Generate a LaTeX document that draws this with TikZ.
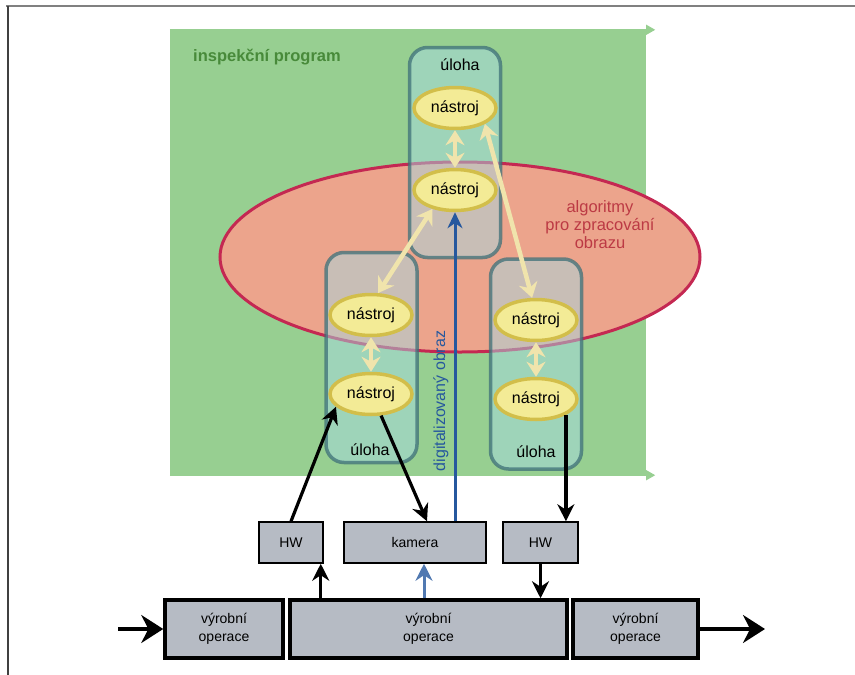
\documentclass[tikz,border=0pt]{standalone}
\usepackage{fontspec}
\setmainfont{Liberation Sans}
\usetikzlibrary{arrows.meta,shapes.geometric,calc}
\definecolor{programGreen}{RGB}{151,207,145}
\definecolor{programText}{RGB}{72,138,58}
\definecolor{algoFill}{RGB}{236,164,140}
\definecolor{algoBorder}{RGB}{196,40,82}
\definecolor{algoText}{RGB}{188,58,68}
\definecolor{taskFill}{RGB}{165,217,225}
\definecolor{taskBorder}{RGB}{62,112,120}
\definecolor{toolFill}{RGB}{243,235,150}
\definecolor{toolBorder}{RGB}{210,190,74}
\definecolor{toolLink}{RGB}{240,228,172}
\definecolor{imageBlue}{RGB}{38,88,158}
\definecolor{hwGrey}{RGB}{182,187,196}
\tikzset{
  every node/.style={font=\fontsize{16}{18}\selectfont},
  flow/.style={line width=3.2pt,-{Stealth[length=17pt,width=17pt]}},
  big flow/.style={line width=3.2pt,-{Stealth[length=22pt,width=28pt]}},
}

\begin{document}
\begin{tikzpicture}[x=1pt,y=-1pt,
  program/.style={fill=programGreen,minimum width=476pt,minimum height=445pt,inner sep=0},
  algo/.style={ellipse,draw=algoBorder,line width=3pt,fill=algoFill,minimum width=480pt,minimum height=190pt},
  task/.style={draw=taskBorder,draw opacity=.75,line width=3.5pt,fill=taskFill,fill opacity=.5,
    rounded corners=18pt,minimum width=91pt,minimum height=210pt},
  tool/.style={ellipse,draw=toolBorder,line width=3.5pt,fill=toolFill,minimum width=82pt,minimum height=41pt,inner sep=0},
  tool link/.style={draw=toolLink,line width=4.5pt,{Stealth[length=15pt,width=19pt]}-{Stealth[length=15pt,width=19pt]}},
  hw/.style={draw,line width=1.5pt,fill=hwGrey,minimum height=41pt,font=\fontsize{14}{15}\selectfont},
  operation/.style={draw,line width=3.5pt,fill=hwGrey,minimum height=58pt,align=center,font=\fontsize{14}{18}\selectfont},
]
\useasboundingbox (0,0) rectangle (855,675);
% frame
\draw[gray,line width=2.5pt] (6,6) -- (855,6);
\draw[black!75,line width=1.5pt] (8,6) -- (8,675);

% inspection program
\node[program] (prog) at (408,252.5) {};
\draw[programGreen,line width=1pt,-{Triangle[length=9pt,width=10pt]},shorten >=-9pt] (prog.north west) -- (prog.north east);
\draw[programGreen,line width=1pt,-{Triangle[length=9pt,width=10pt]},shorten >=-9pt] (prog.south west) -- (prog.south east);
\node[programText,font=\fontsize{16.5}{18}\selectfont\bfseries] (progLabel) at (267,57) {inspekční program};

\node[algo] (algo) at (460,257) {};

% tasks
\node[task] (taskTop) at (455,152.5) {};
\node[task] (taskLeft) at (371.5,357.5) {};
\node[task] (taskRight) at (536,364) {};
\node (taskTopLabel) at (460,65) {úloha};
\node (taskLeftLabel) at (370,450) {úloha};
\node (taskRightLabel) at (536,452) {úloha};

\node[algoText,align=center,font=\fontsize{16.5}{18}\selectfont] (algoLabel) at (600,225) {algoritmy\\pro zpracování\\obrazu};

% tools
\node[tool] (nTopA) at (455,108) {nástroj};
\node[tool] (nTopB) at (455,190) {nástroj};
\node[tool] (nLeftA) at (371,315) {nástroj};
\node[tool] (nLeftB) at (371,394) {nástroj};
\node[tool] (nRightA) at (536,320) {nástroj};
\node[tool] (nRightB) at (536,399) {nástroj};

\draw[tool link] (nTopA) -- (nTopB);
\draw[tool link] (nLeftA) -- (nLeftB);
\draw[tool link] (nRightA) -- (nRightB);
\draw[tool link] (nTopB.-140) -- (nLeftA.72);
\draw[tool link] (nTopA.-28) -- (nRightA.100);

% hardware
\node[hw,minimum width=64pt] (hwL) at (291,542.5) {HW};
\node[hw,minimum width=142pt] (kamera) at (415,542.5) {kamera};
\node[hw,minimum width=75pt] (hwR) at (540.5,542.5) {HW};

\node[operation,minimum width=118pt] (opL) at (224,629) {výrobní\\operace};
\node[operation,minimum width=277pt] (opM) at (428.5,629) {výrobní\\operace};
\node[operation,minimum width=125pt] (opR) at (635.5,629) {výrobní\\operace};

% image path
\draw[imageBlue,line width=3pt,-{Stealth[length=16pt,width=15pt]}] (kamera.north -| nTopB.south) -- (nTopB.south);
\node[imageBlue,rotate=90] (imgLabel) at (441,401) {digitalizovaný obraz};

\draw[flow] (hwL.north) -- (nLeftB.-160);
\draw[flow] (nLeftB.-65) -- ($(kamera.north)+(12,0)$);
\draw[flow] (nRightB.-28) -- (nRightB.-28 |- hwR.north);

\coordinate (upL) at ($(hwL.south east)+(-3,0)$);
\coordinate (camIn) at ($(kamera.south)+(9,0)$);
\draw[flow] (opM.north -| upL) -- (upL);
\draw[imageBlue!80!white,line width=3pt,-{Stealth[length=17pt,width=17pt]}] (opM.north -| camIn) -- (camIn);
\draw[flow] (hwR.south) -- (hwR.south |- opM.north);

\coordinate (lineIn) at (118,629);
\coordinate (lineOut) at (765,629);
\draw[big flow] (lineIn) -- (opL.west);
\draw[big flow] (opR.east) -- (lineOut);
\end{tikzpicture}
\end{document}
